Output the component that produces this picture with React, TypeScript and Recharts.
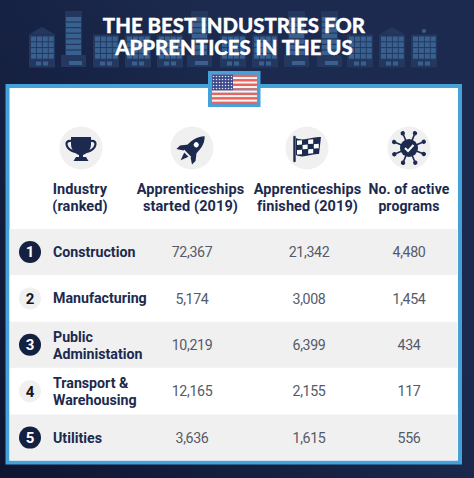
import { Bar, BarChart, Customized, XAxis, YAxis } from 'recharts';

const industries = ['Construction', 'Manufacturing', 'Public|Administation', 'Transport &|Warehousing', 'Utilities'];
const started = [72367, 5174, 10219, 12165, 3636];
const finished = [21342, 3008, 6399, 2155, 1615];
const programs = [4480, 1454, 434, 117, 556];
const columnHeads = [
  ['Industry', '(ranked)'],
  ['Apprenticeships', 'started (2019)'],
  ['Apprenticeships', 'finished (2019)'],
  ['No. of active', 'programs'],
];
const titleLines = ['THE BEST INDUSTRIES FOR', 'APPRENTICES IN THE US'];

const rows = industries.map((name, i) => ({
  name,
  rank: i + 1,
  started: started[i],
  finished: finished[i],
  programs: programs[i],
  band: 1,
}));

const NAVY = '#1b2a4e';
const BLUE = '#45a1d9';
const GREY = '#f0f0f1';
const WINDOW = '#38618f';
const WALL = '#24375f';
const BODY_FONT = 'Roboto, sans-serif';
const ICON_X = [81, 192, 307, 409];
const HEAD_X = [80, 190.5, 307.5, 409];
const VALUE_X = [192, 309, 409];
const RANK_X = 30;
const LABEL_X = 53;

// skyline behind the title
const blocks = [30, 94, 126, 158, 221, 253, 348, 380, 412];
const towers = [65, 191, 288, 321];
const BLOCK_TOP = 36.5;

function Block({ x }: { x: number }) {
  const cells = [];
  for (let r = 0; r < 4; r++) {
    for (let c = 0; c < 4; c++) {
      cells.push(<rect key={`${r}-${c}`} x={x + 1 + c * 5.9} y={BLOCK_TOP + r * 5.8} width={5} height={4.8} fill={WINDOW} />);
    }
  }
  return (
    <g>
      <rect x={x - 1} y={BLOCK_TOP - 2} width={26} height={33} fill={WALL} />
      {cells}
      <rect x={x + 6} y={BLOCK_TOP + 25} width={5} height={4} fill={WINDOW} />
      <rect x={x + 13} y={BLOCK_TOP + 25} width={5} height={4} fill={WINDOW} />
    </g>
  );
}

function Tower({ x }: { x: number }) {
  const bars = [0, 1, 2, 3, 4, 5, 6];
  return (
    <g>
      <rect x={x} y={11} width={17} height={45} fill={WALL} />
      <rect x={x - 4} y={55} width={25} height={12} fill={WALL} />
      {bars.map((b) => (
        <rect key={b} x={x + 1} y={17 + b * 5.6} width={15} height={4.4} fill={WINDOW} />
      ))}
      <rect x={x + 4} y={61} width={13} height={4} fill={WINDOW} />
    </g>
  );
}

function Backdrop() {
  const stripes = Array.from({ length: 13 }, (_, i) => i);
  const dots = [];
  for (let r = 0; r < 5; r++) {
    for (let c = 0; c < 7; c++) {
      dots.push(<circle key={`${r}-${c}`} cx={213.5 + c * 3} cy={76.5 + r * 3} r={0.8} fill="#dfe3f2" />);
    }
  }
  return (
    <g>
      <defs>
        <linearGradient id="page-shade" x1="0.75" y1="0.45" x2="0" y2="1">
          <stop offset="0%" stopColor="#0e1430" stopOpacity={0} />
          <stop offset="100%" stopColor="#0e1430" stopOpacity={0.95} />
        </linearGradient>
      </defs>
      <rect x={0} y={0} width={474} height={478} fill={NAVY} />
      <rect x={0} y={0} width={474} height={478} fill="url(#page-shade)" />

      {blocks.map((x) => <Block key={x} x={x} />)}
      {towers.map((x) => <Tower key={x} x={x} />)}
      <path d="M29 34.5 L42 27 L55 34.5Z M379 34.5 L392 27 L405 34.5Z" fill={WALL} />
      <circle cx={424} cy={31} r={2} fill={WINDOW} />

      <text
        textAnchor="middle"
        fill="#fff"
        stroke="#fff"
        strokeWidth={0.3}
        fontFamily="Lato, sans-serif"
        fontWeight={900}
        fontSize={20.4}
      >
        {titleLines.map((line, i) => (
          <tspan key={line} x={234} y={33 + i * 22}>
            {line}
          </tspan>
        ))}
      </text>

      <rect x={7.5} y={86} width={452.5} height={376.5} fill="#fff" stroke={BLUE} strokeWidth={4} />

      <rect x={208} y={71} width={52.5} height={36} fill={BLUE} />
      {stripes.map((i) => (
        <rect key={i} x={212} y={74.7 + i * 2.26} width={45} height={2.26} fill={i % 2 ? '#f7f3f1' : '#e8645f'} />
      ))}
      <rect x={212} y={74.7} width={21} height={15.5} fill="#3c4a8c" />
      {dots}

      {ICON_X.map((x, i) => (
        <circle key={i} cx={x} cy={148} r={21.5} fill={GREY} />
      ))}
      {columnHeads.map((lines, i) => (
        <text
          key={i}
          textAnchor="middle"
          fill={NAVY}
          fontFamily={BODY_FONT}
          fontWeight={700}
          fontSize={i === 3 ? 14 : 14.5}
          letterSpacing={0.1}
        >
          {lines.map((line, j) => (
            <tspan key={j} x={HEAD_X[i]} y={194 + j * 17}>
              {line}
            </tspan>
          ))}
        </text>
      ))}

      <Trophy />
      <Rocket />
      <RaceFlag />
      <Virus />
    </g>
  );
}

function Trophy() {
  return (
    <g transform="translate(81 148)" fill={NAVY}>
      <path d="M-10,-11 H10 V-4 C10,3 5,6 2,7 V9 H-2 V7 C-5,6 -10,3 -10,-4Z" />
      <path d="M-10,-7 C-17,-8 -16,1 -6,4 M10,-7 C17,-8 16,1 6,4" fill="none" stroke={NAVY} strokeWidth={2.2} />
      <path d="M-5,9 H5 L7.5,13 H-7.5Z" />
    </g>
  );
}

function Rocket() {
  return (
    <g transform="translate(192 149) rotate(45)" fill={NAVY}>
      <path d="M0,-18 C6,-12 7,-4 5.5,6 H-5.5 C-7,-4 -6,-12 0,-18Z" />
      <path d="M-5.5,-1 L-11,6 V11 L-5,7Z M5.5,-1 L11,6 V11 L5,7Z" />
      <path d="M-3,8 H3 L0,16Z" />
      <circle cx={0} cy={-6} r={2.6} fill="#fff" />
    </g>
  );
}

function RaceFlag() {
  const cells = [
    [0, 0], [2, 0], [1, 1], [3, 1], [0, 2], [2, 2],
  ];
  return (
    <g>
      <path d="M294.5 137 V161" stroke={NAVY} strokeWidth={2.4} strokeLinecap="round" />
      <path d="M296 138 C304 142 312 136 321 137 L319 154 C311 153 304 159 296 155Z" fill={NAVY} />
      <g transform="translate(297 140) skewY(-4)">
        {cells.map(([c, r]) => (
          <rect key={`${c}-${r}`} x={c * 5.6} y={r * 4.8 + 0.5} width={5} height={4.4} fill="#fff" />
        ))}
      </g>
    </g>
  );
}

function Virus() {
  const angles = [0, 45, 90, 135, 180, 225, 270, 315];
  return (
    <g transform="translate(409 148)">
      {angles.map((a) => (
        <g key={a} transform={`rotate(${a + 22})`}>
          <line x1={0} y1={0} x2={0} y2={-16} stroke={NAVY} strokeWidth={1.6} />
          <circle cx={0} cy={-16} r={2.2} fill={NAVY} />
        </g>
      ))}
      <circle r={9} fill={NAVY} />
      <path d="M-4,0 L-1,3 L4.5,-3" fill="none" stroke="#fff" strokeWidth={2} />
    </g>
  );
}

function RowCells(props: any) {
  const { x, y, width, height, payload, index } = props;
  const mid = y + height / 2;
  const odd = index % 2 === 0;
  const lines: string[] = payload.name.split('|');
  return (
    <g>
      <rect x={x} y={y} width={width} height={height} fill={odd ? GREY : '#fff'} />
      <circle cx={RANK_X} cy={mid} r={11} fill={odd ? '#14203f' : GREY} />
      <text
        x={RANK_X}
        y={mid + 5.4}
        textAnchor="middle"
        fill={odd ? '#fff' : '#15171f'}
        fontFamily={BODY_FONT}
        fontWeight={700}
        fontSize={15}
      >
        {payload.rank}
      </text>
      <text fill={NAVY} fontFamily={BODY_FONT} fontWeight={700} fontSize={14.2}>
        {lines.map((line, i) => (
          <tspan key={line} x={LABEL_X} y={lines.length > 1 ? mid - 3.2 + i * 17 : mid + 5}>
            {line}
          </tspan>
        ))}
      </text>
      {[payload.started, payload.finished, payload.programs].map((v: number, i: number) => (
        <text
          key={i}
          x={VALUE_X[i]}
          y={mid + 5.2}
          textAnchor="middle"
          fill="#555a68"
          fontFamily={BODY_FONT}
          fontSize={14.2}
          letterSpacing={-0.35}
        >
          {v.toLocaleString('en-US')}
        </text>
      ))}
    </g>
  );
}

export default function App() {
  return (
    <div style={{ position: 'absolute', left: 0, top: 0, width: 474, height: 478 }}>
      <BarChart
        width={474}
        height={478}
        data={rows}
        layout="vertical"
        barCategoryGap={0}
        margin={{ top: 229, right: 16.5, bottom: 17, left: 9.5 }}
      >
        <Customized component={Backdrop} />
        <XAxis type="number" domain={[0, 1]} hide />
        <YAxis type="category" dataKey="name" hide />
        <Bar dataKey="band" shape={RowCells} isAnimationActive={false} />
      </BarChart>
    </div>
  );
}
